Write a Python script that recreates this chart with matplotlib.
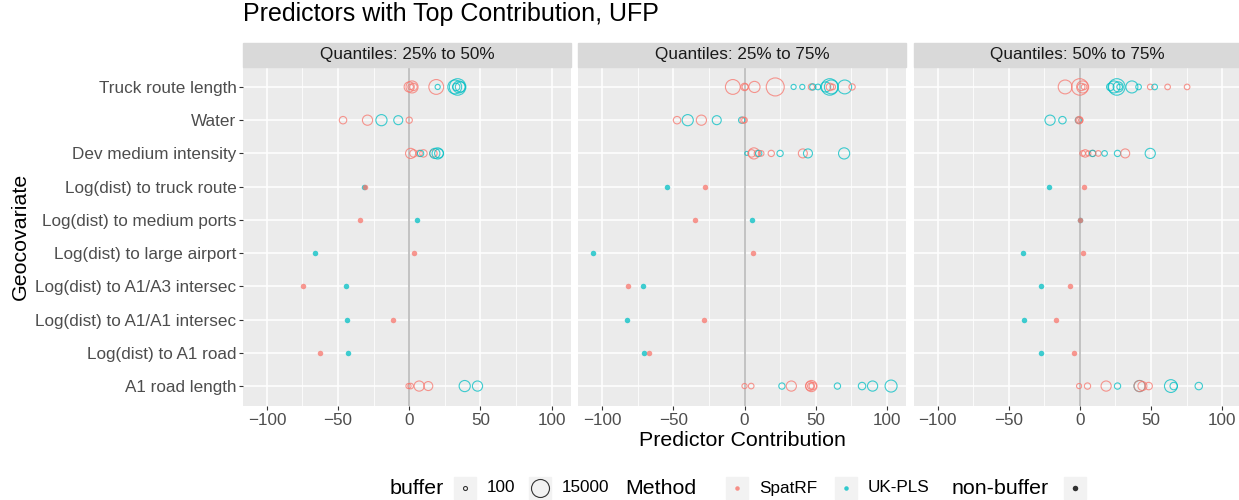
import numpy as np
import matplotlib
matplotlib.use("Agg")
import matplotlib.pyplot as plt
from matplotlib.patches import Rectangle
from matplotlib.lines import Line2D

plt.rcParams['font.family'] = ['Liberation Sans', 'DejaVu Sans']

W, H = 1239, 500

# y categories, bottom to top
predictors = ["A1 road length", "Log(dist) to A1 road", "Log(dist) to A1/A1 intersec",
              "Log(dist) to A1/A3 intersec", "Log(dist) to large airport",
              "Log(dist) to medium ports", "Log(dist) to truck route",
              "Dev medium intensity", "Water", "Truck route length"]
codes = ["a1len", "a1rd", "a1a1", "a1a3", "air", "port", "truck", "dev", "water", "trlen"]

quantiles = ["Quantiles: 25% to 50%", "Quantiles: 25% to 75%", "Quantiles: 50% to 75%"]
method_names = {"S": "SpatRF", "U": "UK-PLS"}
colors = {"S": "#F8766D", "U": "#00BFC4"}

# buffered predictors: (predictor, method, contribution, buffer size)
buf_25_50 = [
    ("trlen", "S", 0, 3000), ("trlen", "S", 2, 5000), ("trlen", "S", 3, 1000), ("trlen", "S", 1, 300),
    ("trlen", "S", 19, 9000), ("trlen", "U", 20, 200), ("trlen", "U", 32, 7500),
    ("trlen", "U", 34, 12000), ("trlen", "U", 35, 5000), ("trlen", "U", 36, 3000), ("trlen", "U", 33, 1000),
    ("water", "S", -46.5, 1000), ("water", "S", -29.3, 3000), ("water", "U", -19.5, 4000),
    ("water", "U", -7.7, 2000), ("water", "S", 0, 500),
    ("dev", "S", 1, 3000), ("dev", "S", 3, 1000), ("dev", "S", 7, 500), ("dev", "S", 10, 1000),
    ("dev", "S", 17, 1000), ("dev", "U", 8, 500), ("dev", "U", 18, 3000), ("dev", "U", 20, 4000),
    ("dev", "U", 21, 2000),
    ("a1len", "S", -0.5, 200), ("a1len", "S", 1, 300), ("a1len", "S", 7, 3000), ("a1len", "S", 13.4, 2000),
    ("a1len", "U", 39, 4000), ("a1len", "U", 48, 3000),
]
buf_25_75 = [
    ("trlen", "S", -8.2, 9000), ("trlen", "S", 0, 1000), ("trlen", "S", 0.5, 500), ("trlen", "S", 7, 4000),
    ("trlen", "S", 21.6, 15000), ("trlen", "U", 34.5, 200), ("trlen", "U", 40.6, 200),
    ("trlen", "S", 47, 500), ("trlen", "U", 48, 500), ("trlen", "U", 51.6, 300), ("trlen", "U", 57, 3000),
    ("trlen", "U", 59.9, 12000), ("trlen", "U", 61, 7500), ("trlen", "S", 60, 1000), ("trlen", "S", 62, 300),
    ("trlen", "U", 70.4, 7500), ("trlen", "S", 75.6, 500),
    ("water", "S", -47.4, 1000), ("water", "U", -39.9, 4000), ("water", "S", -30.3, 3000),
    ("water", "U", -19.5, 2000), ("water", "U", -2, 500), ("water", "S", -1, 500), ("water", "S", 0, 300),
    ("dev", "U", 1.6, 100), ("dev", "S", 6.6, 4000), ("dev", "S", 5, 1000), ("dev", "S", 9, 500),
    ("dev", "U", 10, 500), ("dev", "S", 11.7, 300), ("dev", "S", 18.8, 500), ("dev", "U", 25, 500),
    ("dev", "S", 41, 2000), ("dev", "U", 44.6, 2000), ("dev", "U", 70, 4000),
    ("a1len", "S", 0, 200), ("a1len", "S", 4.7, 300), ("a1len", "U", 26.3, 500), ("a1len", "S", 32.9, 3000),
    ("a1len", "S", 46, 2000), ("a1len", "S", 47, 4000), ("a1len", "S", 48, 1000), ("a1len", "S", 46.5, 500),
    ("a1len", "U", 65.3, 500), ("a1len", "U", 82.6, 1000), ("a1len", "U", 90, 3000), ("a1len", "U", 103, 5000),
]
buf_50_75 = [
    ("trlen", "S", -10.3, 7500), ("trlen", "S", 0, 12000), ("trlen", "S", 2, 5000), ("trlen", "S", 1, 1000),
    ("trlen", "S", 3, 300), ("trlen", "U", 21.4, 1000), ("trlen", "U", 24, 5000), ("trlen", "U", 26, 12000),
    ("trlen", "U", 27, 3000), ("trlen", "U", 28, 300), ("trlen", "U", 36.6, 5000), ("trlen", "U", 41.3, 300),
    ("trlen", "S", 49.5, 300), ("trlen", "U", 52.6, 300), ("trlen", "S", 61.7, 300), ("trlen", "S", 75.4, 300),
    ("water", "U", -20.9, 3000), ("water", "U", -12.2, 1000), ("water", "U", -1, 500),
    ("water", "S", -0.5, 1000), ("water", "S", 0, 500), ("water", "S", 0.5, 100),
    ("dev", "S", 3.8, 1000), ("dev", "S", 2, 300), ("dev", "S", 6, 200), ("dev", "S", 9, 500),
    ("dev", "U", 9, 500), ("dev", "S", 13, 300), ("dev", "U", 17.4, 300), ("dev", "U", 26.5, 500),
    ("dev", "S", 31.9, 2000), ("dev", "U", 49.5, 3000),
    ("a1len", "S", -0.5, 200), ("a1len", "S", 5.4, 500), ("a1len", "S", 18.5, 3000), ("a1len", "U", 26.5, 500),
    ("a1len", "U", 42, 4000), ("a1len", "S", 42, 4000), ("a1len", "S", 44, 2000), ("a1len", "S", 48.4, 1000),
    ("a1len", "U", 64, 6000), ("a1len", "U", 66, 1000), ("a1len", "U", 83.6, 1000),
]

# non-buffer predictors: (predictor, SpatRF, UK-PLS)
nb_25_50 = [("truck", -31.2, -32.0), ("port", -34.7, 5.6), ("air", 3.3, -65.9),
            ("a1a3", -74.9, -44.1), ("a1a1", -11.3, -43.4), ("a1rd", -62.4, -42.7)]
nb_25_75 = [("truck", -28.0, -54.2), ("port", -34.5, 5.2), ("air", 5.9, -106.3),
            ("a1a3", -82.2, -71.1), ("a1a1", -28.6, -82.9), ("a1rd", -67.4, -70.4)]
nb_50_75 = [("truck", 3.0, -21.8), ("port", 0.0, 0.0), ("air", 2.3, -40.1),
            ("a1a3", -6.6, -27.0), ("a1a1", -16.7, -39.4), ("a1rd", -4.2, -27.0)]

buffers = [buf_25_50, buf_25_75, buf_50_75]
nonbuf = [nb_25_50, nb_25_75, nb_50_75]

BMIN, BMAX = 100, 15000


def size_px(b):
    # area scale like ggplot scale_size
    return 4 + 14 * np.sqrt((b - BMIN) / (BMAX - BMIN))


def px_pt(d):
    return d * 72 / 100


fig = plt.figure(figsize=(W / 100, H / 100), dpi=100)

left0, step, pw = 243, 335.3, 328
ptop, pbot = 67, 406
for i in range(3):
    left = left0 + i * step
    ax = fig.add_axes([left / W, 1 - pbot / H, pw / W, (pbot - ptop) / H])
    ax.set_facecolor("#EBEBEB")
    ax.set_xlim(-116.8, 113.7)
    ax.set_ylim(-0.6, len(predictors) - 0.4)
    ax.set_xticks([-100, -50, 0, 50, 100])
    ax.set_xticks([-75, -25, 25, 75], minor=True)
    ax.set_yticks(range(len(predictors)))
    ax.set_yticklabels(predictors if i == 0 else [])
    ax.grid(which="major", color="white", linewidth=1.1)
    ax.grid(which="minor", axis="x", color="white", linewidth=0.55)
    ax.set_axisbelow(True)
    for s in ax.spines.values():
        s.set_visible(False)
    ax.tick_params(which="major", length=2.7, width=0.8, color="#333333",
                   labelsize=12.3, labelcolor="#4D4D4D", pad=2)
    ax.tick_params(which="minor", length=0)
    if i > 0:
        ax.tick_params(axis="y", length=0)
    ax.axvline(0, color="#BEBEBE", linewidth=1.3, zorder=1)

    pts = buffers[i]
    xs = [p[2] for p in pts]
    ys = [codes.index(p[0]) for p in pts]
    cs = [colors[p[1]] for p in pts]
    ss = [px_pt(size_px(p[3])) ** 2 for p in pts]
    ax.scatter(xs, ys, s=ss, facecolors="none", edgecolors=cs, linewidths=0.8,
               alpha=0.75, zorder=3)

    for code, vs, vu in nonbuf[i]:
        y = codes.index(code)
        ax.scatter([vu], [y], s=px_pt(5.5) ** 2, color=colors["U"], alpha=0.75,
                   linewidths=0, zorder=3)
        ax.scatter([vs], [y], s=px_pt(5.5) ** 2, color=colors["S"], alpha=0.75,
                   linewidths=0, zorder=3)

    # facet strip
    fig.patches.append(Rectangle((left / W, 1 - ptop / H), pw / W, 24 / H,
                                 transform=fig.transFigure, color="#D9D9D9", zorder=0))
    fig.text((left + pw / 2) / W, 1 - (ptop - 12) / H, quantiles[i], ha="center",
             va="center", fontsize=12.3, color="#1A1A1A")

fig.text(243 / W, 1 - 14 / H, "Predictors with Top Contribution, UFP", ha="left",
         va="center", fontsize=18)
fig.text(742 / W, 1 - 441 / H, "Predictor Contribution", ha="center", va="center",
         fontsize=15.4)
fig.text(20 / W, 1 - 236 / H, "Geocovariate", ha="center", va="center",
         fontsize=15.4, rotation=90)

# legend
ly = 1 - 488 / H


def key(xc, marker_d, color, filled):
    fig.patches.append(Rectangle(((xc - 11) / W, ly - 11 / H), 22 / W, 22 / H,
                                 transform=fig.transFigure, color="#F2F2F2"))
    fig.add_artist(Line2D([xc / W], [ly], transform=fig.transFigure, marker="o",
                          markersize=px_pt(marker_d), linestyle="none",
                          markerfacecolor=color if filled else "none",
                          markeredgecolor=color, markeredgewidth=0.8 if not filled else 0,
                          alpha=0.8 if filled else 1))


fig.text(390 / W, ly, "buffer", ha="left", va="center", fontsize=15.4)
key(465, size_px(BMIN), "#333333", False)
fig.text(487 / W, ly, "100", ha="left", va="center", fontsize=12.3)
key(540, size_px(BMAX), "#333333", False)
fig.text(562 / W, ly, "15000", ha="left", va="center", fontsize=12.3)
fig.text(625 / W, ly, "Method", ha="left", va="center", fontsize=15.4)
key(737, 4.5, colors["S"], True)
fig.text(759 / W, ly, method_names["S"], ha="left", va="center", fontsize=12.3)
key(846, 4.5, colors["U"], True)
fig.text(868 / W, ly, method_names["U"], ha="left", va="center", fontsize=12.3)
fig.text(952 / W, ly, "non-buffer", ha="left", va="center", fontsize=15.4)
key(1075, 5.5, "#000000", True)

fig.savefig("out.png", dpi=100)
